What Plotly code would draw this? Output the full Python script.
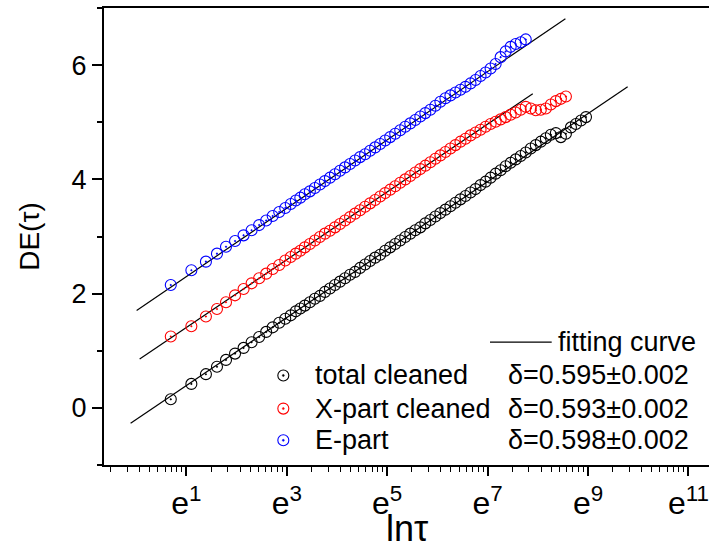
import math
import plotly.graph_objects as go

# ---------------- data ----------------
# x values are ln(tau); tick labels show e^n
LN_TAU = [0.69, 1.10, 1.39, 1.61, 1.79, 1.97, 2.14, 2.30, 2.45, 2.59, 2.72, 2.85,
          2.97, 3.08, 3.18, 3.27, 3.36, 3.46, 3.56, 3.66, 3.76, 3.86, 3.96, 4.06,
          4.16, 4.26, 4.36, 4.46, 4.56, 4.66, 4.76, 4.86, 4.96, 5.06, 5.16, 5.26,
          5.36, 5.46, 5.56, 5.66, 5.76, 5.86, 5.96, 6.06, 6.16, 6.26, 6.36, 6.46,
          6.56, 6.66, 6.76, 6.86, 6.96, 7.06, 7.16, 7.26, 7.36, 7.46, 7.56, 7.66,
          7.76, 7.86, 7.96, 8.06, 8.16, 8.26, 8.36, 8.46, 8.56, 8.66, 8.76, 8.86,
          8.96]

DE_TOTAL = [0.15, 0.42, 0.59, 0.72, 0.84, 0.95, 1.05, 1.15, 1.24, 1.33, 1.41, 1.49,
            1.56, 1.62, 1.69, 1.74, 1.79, 1.85, 1.91, 1.96, 2.03, 2.09, 2.15, 2.21,
            2.27, 2.33, 2.38, 2.45, 2.51, 2.57, 2.63, 2.68, 2.75, 2.81, 2.87, 2.93,
            2.99, 3.05, 3.11, 3.16, 3.23, 3.29, 3.35, 3.41, 3.47, 3.53, 3.59, 3.65,
            3.71, 3.77, 3.83, 3.90, 3.96, 4.03, 4.10, 4.16, 4.23, 4.29, 4.35, 4.41,
            4.47, 4.54, 4.60, 4.66, 4.72, 4.78, 4.81, 4.74, 4.80, 4.91, 4.97, 5.03,
            5.09]

DE_XPART = [1.25, 1.43, 1.60, 1.73, 1.85, 1.97, 2.08, 2.18, 2.27, 2.35, 2.43, 2.50,
            2.58, 2.64, 2.70, 2.75, 2.81, 2.87, 2.93, 2.99, 3.05, 3.10, 3.16, 3.22,
            3.28, 3.34, 3.40, 3.46, 3.52, 3.58, 3.64, 3.70, 3.76, 3.82, 3.88, 3.94,
            4.00, 4.06, 4.12, 4.18, 4.24, 4.30, 4.36, 4.42, 4.48, 4.54, 4.60, 4.66,
            4.71, 4.77, 4.82, 4.87, 4.92, 4.97, 5.01, 5.05, 5.09, 5.13, 5.17, 5.22,
            5.27, 5.24, 5.21, 5.22, 5.24, 5.31, 5.37, 5.41, 5.45]

DE_EPART = [2.15, 2.41, 2.56, 2.70, 2.82, 2.92, 3.02, 3.11, 3.20, 3.28, 3.36, 3.43,
            3.50, 3.57, 3.63, 3.68, 3.74, 3.79, 3.85, 3.91, 3.97, 4.03, 4.09, 4.15,
            4.21, 4.27, 4.33, 4.39, 4.44, 4.50, 4.56, 4.62, 4.68, 4.74, 4.80, 4.86,
            4.92, 4.98, 5.04, 5.10, 5.16, 5.22, 5.29, 5.36, 5.42, 5.47, 5.52, 5.57,
            5.62, 5.68, 5.74, 5.81, 5.87, 5.94, 6.02, 6.14, 6.24, 6.32, 6.37, 6.40,
            6.45]

SERIES_NAMES = ["total cleaned", "X-part cleaned", "E-part"]
SERIES_VALUES = [DE_TOTAL, DE_XPART, DE_EPART]
SERIES_COLORS = ["#000000", "#ff0000", "#0000ff"]

# fitted lines: DE = delta * ln(tau) + intercept
FIT_DELTA = [0.595, 0.593, 0.598]
FIT_DELTA_ERR = [0.002, 0.002, 0.002]
FIT_INTERCEPT = [-0.205, 0.815, 1.70]
FIT_X_START = [-0.11, 0.07, 0.01]
FIT_X_END = [9.79, 7.90, 8.55]

X_TICK_POWERS = [1, 3, 5, 7, 9, 11]
Y_TICKS = [0, 2, 4, 6]
Y_MINOR = [-1, 1, 3, 5, 7]

FONT = "Arial, Liberation Sans, sans-serif"

fig = go.Figure()

# fit lines
for d, b, x0, x1 in zip(FIT_DELTA, FIT_INTERCEPT, FIT_X_START, FIT_X_END):
    fig.add_trace(go.Scatter(
        x=[x0, x1], y=[d * x0 + b, d * x1 + b], mode="lines",
        line=dict(color="black", width=1.2), showlegend=False, hoverinfo="skip"))

# data points
for name, vals, col in zip(SERIES_NAMES, SERIES_VALUES, SERIES_COLORS):
    fig.add_trace(go.Scatter(
        x=LN_TAU[:len(vals)], y=vals, mode="markers", name=name,
        marker=dict(symbol="circle-open-dot", size=11, color=col,
                    line=dict(color=col, width=1.1)),
        showlegend=False))

# minor ticks on the ln axis (Origin style: linear steps between e^n and e^(n+2))
x_minor = []
for n in range(-1, 12, 2):
    for j in range(1, 10):
        x_minor.append(n + math.log(1 + j * (math.e ** 2 - 1) / 10))

fig.update_layout(
    width=709, height=552,
    margin=dict(l=104, r=0, t=8, b=87),
    paper_bgcolor="white", plot_bgcolor="white",
    font=dict(family=FONT, color="black"),
    showlegend=False,
    xaxis=dict(
        range=[-0.64, 11.41], tickmode="array", tickvals=X_TICK_POWERS,
        ticktext=[f"e<sup>{p}</sup>" for p in X_TICK_POWERS],
        ticks="outside", ticklen=9, tickwidth=1.5, tickcolor="black",
        showline=True, linewidth=2, linecolor="black", mirror=True,
        showgrid=False, zeroline=False, automargin=False,
        tickfont=dict(size=32, family=FONT),
        minor=dict(tickvals=x_minor, ticks="outside", ticklen=5, tickwidth=1,
                   tickcolor="black", showgrid=False),
    ),
    yaxis=dict(
        range=[-1, 7], tickmode="array", tickvals=Y_TICKS,
        ticks="outside", ticklen=10, tickwidth=2, tickcolor="black",
        showline=True, linewidth=2, linecolor="black",
        showgrid=False, zeroline=False, automargin=False,
        tickfont=dict(size=27, family=FONT),
        minor=dict(tickvals=Y_MINOR, ticks="outside", ticklen=5, tickwidth=2,
                   tickcolor="black", showgrid=False),
        title=dict(text="DE(τ)", font=dict(size=28, family=FONT), standoff=24),
    ),
)

# x axis title
fig.add_annotation(text="lnτ", xref="paper", yref="paper", x=0.5, y=-0.189,
                   xanchor="center", yanchor="bottom", showarrow=False,
                   font=dict(size=36, family=FONT, color="black"))

# ---------------- legend drawn inside the plot (paper coordinates) ----------------
LEG_MARK_X = 0.2964
LEG_LABEL_X = 0.3455
LEG_DELTA_X = 0.970
LEG_ROW_Y = [0.196, 0.1234, 0.054]
FIT_ROW_Y = 0.269

fig.add_shape(type="line", xref="paper", yref="paper", x0=0.638, x1=0.740,
              y0=FIT_ROW_Y, y1=FIT_ROW_Y, line=dict(color="black", width=1.2))
fig.add_annotation(text="fitting curve", xref="paper", yref="paper", x=0.982,
                   y=FIT_ROW_Y, xanchor="right", yanchor="middle", showarrow=False,
                   font=dict(size=27, family=FONT, color="black"))

for name, col, d, e, yr in zip(SERIES_NAMES, SERIES_COLORS, FIT_DELTA,
                               FIT_DELTA_ERR, LEG_ROW_Y):
    fig.add_shape(type="circle", xref="paper", yref="paper",
                  xsizemode="pixel", ysizemode="pixel",
                  xanchor=LEG_MARK_X, yanchor=yr, x0=-5.5, x1=5.5, y0=-5.5, y1=5.5,
                  line=dict(color=col, width=1.1))
    fig.add_shape(type="circle", xref="paper", yref="paper",
                  xsizemode="pixel", ysizemode="pixel",
                  xanchor=LEG_MARK_X, yanchor=yr, x0=-1, x1=1, y0=-1, y1=1,
                  line=dict(color=col, width=0.5), fillcolor=col)
    fig.add_annotation(text=name, xref="paper", yref="paper", x=LEG_LABEL_X, y=yr,
                       xanchor="left", yanchor="middle", showarrow=False,
                       font=dict(size=27, family=FONT, color="black"))
    fig.add_annotation(text=f"δ={d:.3f}±{e:.3f}", xref="paper", yref="paper",
                       x=LEG_DELTA_X, y=yr, xanchor="right", yanchor="middle",
                       showarrow=False, font=dict(size=27, family=FONT, color="black"))

# the page's default 8px body margin would shift the figure; remove it
fig.write_html("out.html",
               config={"displayModeBar": False},
               post_script="document.body.style.margin='0px';")
